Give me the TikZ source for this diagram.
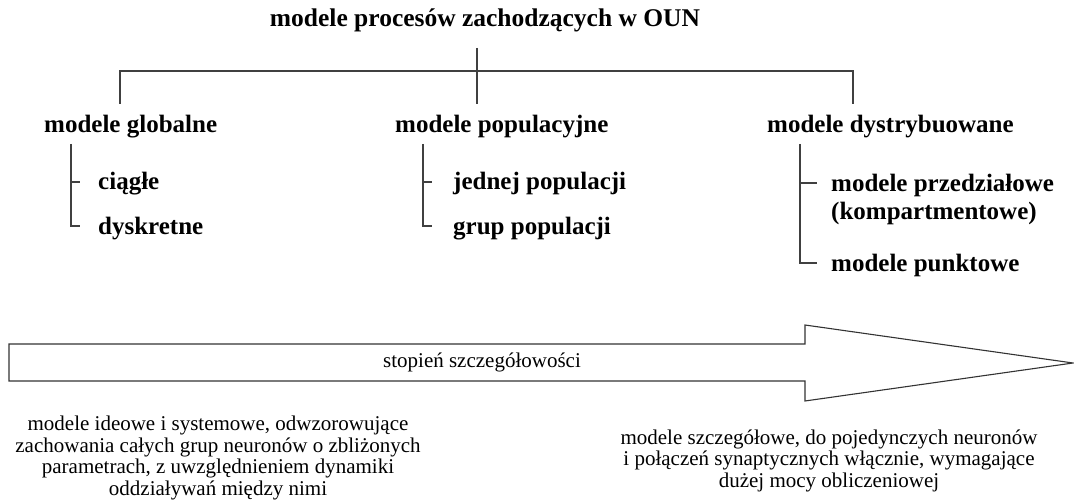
\documentclass[tikz,border=0pt]{standalone}
\usepackage{fontspec}
\setmainfont{Liberation Serif}
\begin{document}
\begin{tikzpicture}[x=1pt, y=-1pt,
  every node/.style={inner sep=0pt},
  head/.style={font=\fontsize{25.5}{29}\selectfont\bfseries, anchor=base},
  cat/.style={font=\fontsize{25}{28}\selectfont\bfseries, anchor=base west, align=left},
  note/.style={font=\fontsize{21}{21.4}\selectfont, align=center, anchor=base},
  tree/.style={line width=1.1pt, black!75}]
  \useasboundingbox (0,0) rectangle (1074,502);

  % Root
  \node[head] (oun) at (485,27) {modele procesów zachodzących w OUN};
  \coordinate (stem) at (477,48);
  \coordinate (bar) at (477,71);
  \coordinate (gl) at (120,104);
  \coordinate (po) at (477,104);
  \coordinate (dy) at (853,104);
  \draw[tree] (stem) -- (po);
  \draw[tree] (gl) |- (bar) -| (dy);

  % Groups
  \node[cat] (glob) at (44,133) {modele globalne};
  \node[cat] (popul) at (395,133) {modele populacyjne};
  \node[cat] (dystr) at (767,133) {modele dystrybuowane};

  % Leaves (base = last line)
  \node[cat] (ciagle) at (98,190) {ciągłe};
  \node[cat] (dyskr) at (98,235) {dyskretne};
  \node[cat] (jednej) at (453,190) {jednej populacji};
  \node[cat] (grup) at (453,235) {grup populacji};
  \node[cat] (przedz) at (831,220) {modele przedziałowe\\(kompartmentowe)};
  \node[cat] (punkt) at (831,272) {modele punktowe};

  % Leaf branches
  \coordinate (g0) at (71,144);
  \coordinate (g1) at (80,182);
  \coordinate (g2) at (80,226);
  \coordinate (p0) at (423,144);
  \coordinate (p1) at (432,182);
  \coordinate (p2) at (432,226);
  \coordinate (d0) at (800,144);
  \coordinate (d1) at (817,183);
  \coordinate (d2) at (817,263);
  \draw[tree] (g0) |- (g2);
  \draw[tree] (g0 |- g1) -- (g1);
  \draw[tree] (p0) |- (p2);
  \draw[tree] (p0 |- p1) -- (p1);
  \draw[tree] (d0) |- (d2);
  \draw[tree] (d0 |- d1) -- (d1);

  % Arrow
  \draw[line width=1.1pt, black!80, line join=miter]
    (9,344) -- (805,344) -- (805,325) -- (1073,363) -- (805,401)
    -- (805,381) -- (9,381) -- cycle;
  \node[font=\fontsize{21}{21.4}\selectfont] (stopien) at (482,362) {stopień szczegółowości};

  % Notes (base = last line)
  \node[note] (ideowe) at (218,495) {modele ideowe i systemowe, odwzorowujące\\
    zachowania całych grup neuronów o zbliżonych\\
    parametrach, z uwzględnieniem dynamiki\\
    oddziaływań między nimi};
  \node[note] (szczeg) at (829,487) {modele szczegółowe, do pojedynczych neuronów\\
    i połączeń synaptycznych włącznie, wymagające\\
    dużej mocy obliczeniowej};
\end{tikzpicture}
\end{document}
